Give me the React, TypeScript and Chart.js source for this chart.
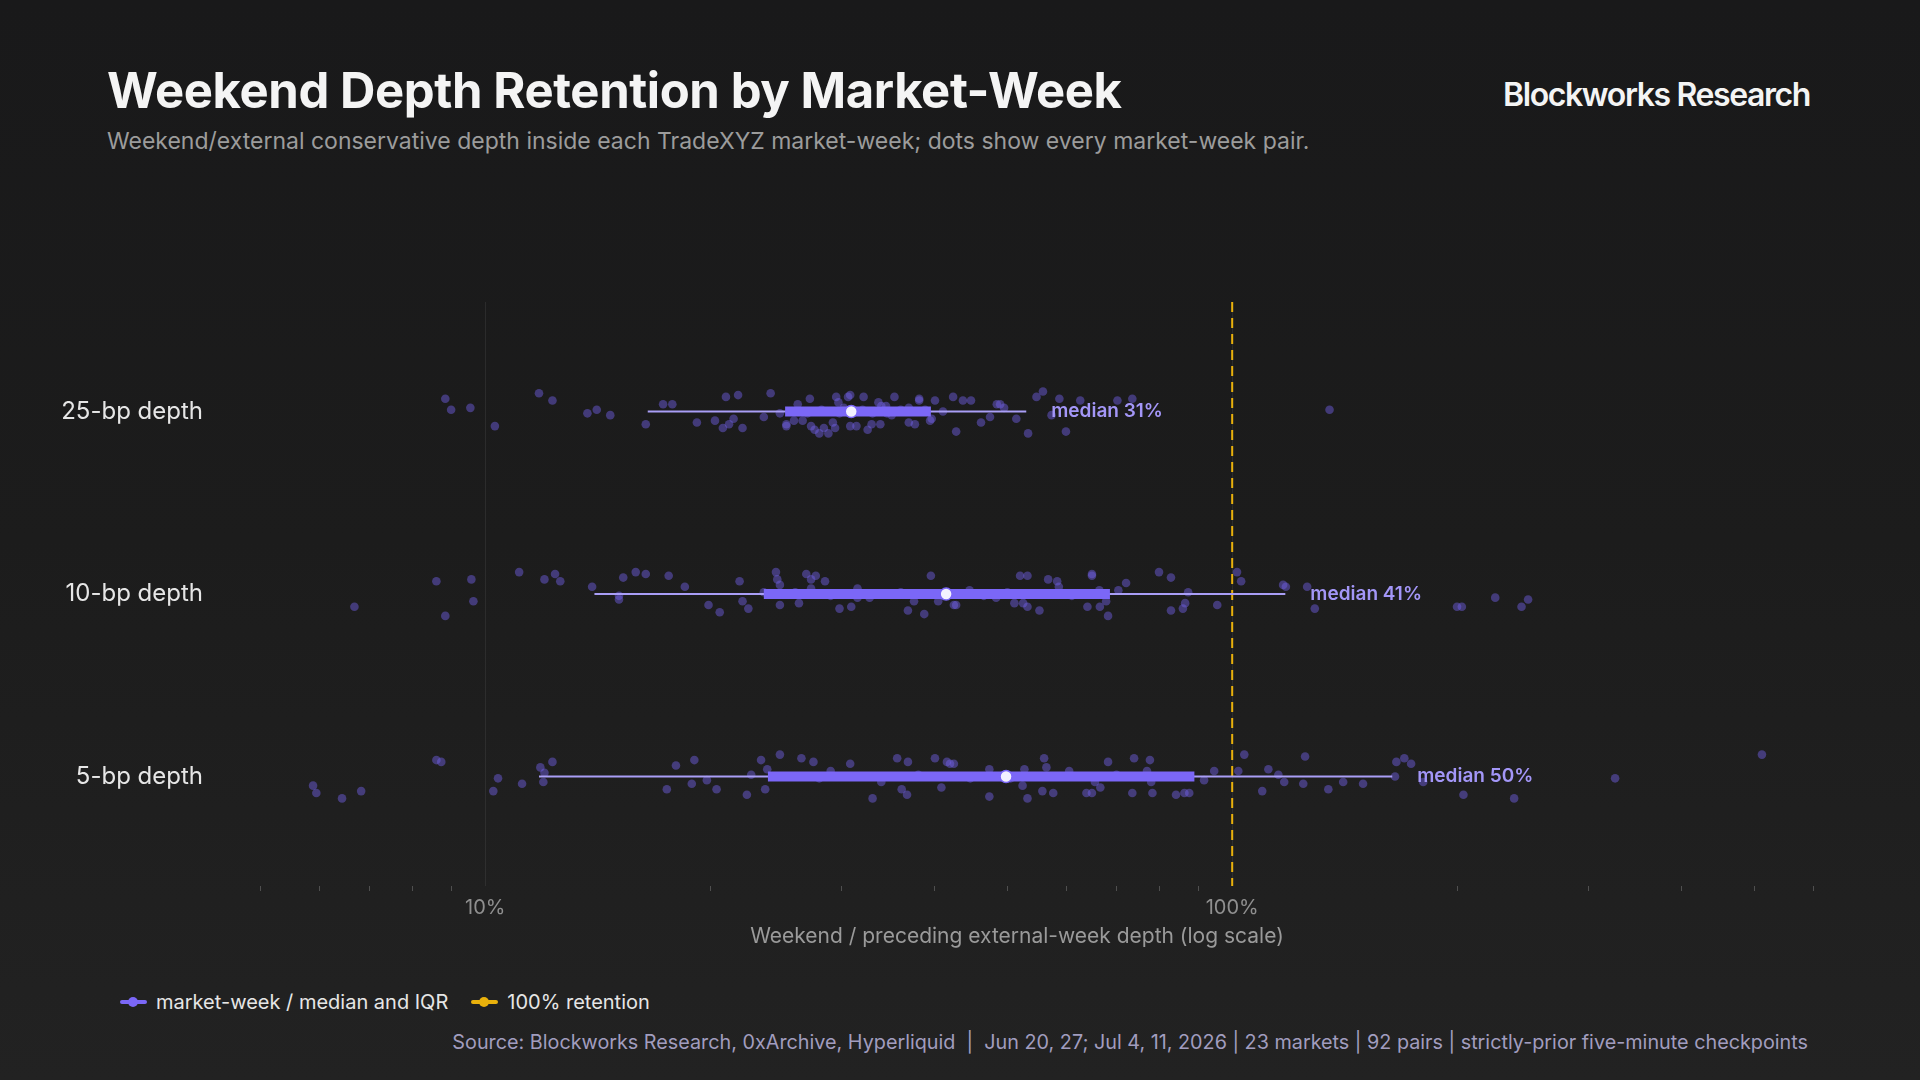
import { useEffect, useRef } from "react";
import Chart from "chart.js/auto";

const ROWS = ["25-bp depth", "10-bp depth", "5-bp depth"];

// box summary per row, weekend / preceding external-week depth in %
const WHISKER_LOW = [16.5, 14.0, 11.8];
const Q1 = [25.2, 23.6, 23.9];
const MEDIAN = [30.9, 41.4, 49.8];
const Q3 = [39.5, 68.6, 89.0];
const WHISKER_HIGH = [53.0, 117.8, 163.8];

const MAJOR_TICKS = [10, 100];
const MINOR_TICKS = [5, 6, 7, 8, 9, 20, 30, 40, 50, 60, 70, 80, 90, 200, 300, 400, 500, 600];
const X_MIN = 4.4;
const X_MAX = 603;
const Y_MIN = -0.6;
const Y_MAX = 2.6;
const RETENTION = 100;

// one dot per market-week: [ratio %, vertical jitter in row units]
const DOTS_25BP: [number, number][] = [
  [8.84, -0.07], [9.0, -0.01], [9.55, -0.02], [10.3, 0.08], [11.8, -0.1], [12.3, -0.06],
  [13.7, 0.01], [14.1, -0.01], [14.7, 0.02], [16.4, 0.07], [17.3, -0.04], [17.8, -0.04],
  [19.2, 0.06], [20.3, 0.05], [20.8, 0.09], [21.0, -0.08], [21.2, 0.07], [21.5, 0.04],
  [21.8, -0.09], [22.1, 0.09], [23.6, 0.03], [24.1, -0.1], [24.8, 0.01], [25.3, 0.07],
  [25.3, 0.08], [25.9, 0.05], [26.0, 0], [26.2, -0.04], [26.6, 0.05], [27.0, 0.01],
  [27.2, -0.07], [27.3, 0.08], [27.6, 0.1], [28.0, 0.12], [28.2, -0.01], [28.4, 0.09],
  [28.8, 0.12], [29.2, 0.06], [29.4, 0.09], [29.5, -0.08], [29.7, -0.05], [29.8, 0.01],
  [30.2, -0.02], [30.6, -0.08], [30.8, -0.09], [30.8, 0.08], [31.0, 0], [31.4, 0.08],
  [32.0, -0.01], [32.1, -0.08], [32.5, 0.1], [32.9, 0.07], [33.0, 0.01], [33.6, -0.05],
  [33.8, 0.07], [33.9, -0.03], [34.4, -0.03], [34.5, 0.01], [35.0, 0.02], [35.3, -0.08],
  [36.0, -0.01], [36.9, -0.02], [36.9, 0.06], [37.0, 0], [37.6, 0.07], [38.1, -0.06],
  [38.1, -0.07], [38.8, -0.01], [39.4, 0.05], [39.6, 0.04], [40.0, -0.06], [41.0, 0],
  [42.3, -0.08], [42.7, 0.11], [43.6, -0.06], [44.7, -0.06], [46.1, 0.06], [47.4, 0.03],
  [48.4, -0.04], [48.9, -0.04], [49.5, -0.02], [51.4, 0.04], [53.3, 0.12], [54.7, -0.08],
  [55.8, -0.11], [57.3, 0.02], [58.7, -0.07], [59.9, 0.11], [62.6, -0.06], [70.2, -0.06],
  [73.5, -0.07], [135, -0.01],
];

const DOTS_10BP: [number, number][] = [
  [6.68, 0.07], [8.6, -0.07], [8.84, 0.12], [9.58, -0.08], [9.64, 0.04], [11.1, -0.12],
  [12.0, -0.08], [12.4, -0.11], [12.6, -0.07], [13.9, -0.04], [15.1, 0.01], [15.1, 0.03],
  [15.3, -0.09], [15.9, -0.12], [16.4, -0.11], [17.6, -0.1], [18.5, -0.04], [19.9, 0.06],
  [20.6, 0.1], [21.9, -0.07], [22.1, 0.04], [22.5, 0.08], [23.6, -0.01], [24.5, -0.12],
  [24.6, -0.08], [24.8, -0.05], [24.8, 0.06], [26.0, -0.01], [26.3, 0.05], [26.9, -0.11],
  [27.3, -0.08], [27.3, -0.03], [27.7, -0.1], [28.5, -0.07], [29.0, 0.01], [29.8, 0.08],
  [30.9, 0.07], [31.5, -0.03], [31.5, 0.02], [32.7, 0.02], [34.0, 0], [36.0, -0.01],
  [36.8, 0.09], [37.5, 0.04], [38.7, 0.11], [39.5, -0.1], [40.4, 0.04], [41.0, 0.01],
  [42.4, 0.06], [42.7, 0.06], [44.5, -0.02], [46.5, 0.01], [48.3, 0.02], [50.0, -0.01],
  [51.1, 0.05], [52.0, -0.1], [52.5, 0.05], [53.2, 0.07], [53.2, -0.1], [55.2, 0.09],
  [56.7, -0.08], [57.0, 0], [58.3, -0.07], [58.6, -0.04], [61.0, 0.01], [64.0, 0.07],
  [64.9, -0.1], [64.9, -0.11], [66.4, -0.02], [66.5, 0.07], [67.8, 0.04], [68.2, 0.12],
  [70.4, -0.02], [72.1, -0.06], [79.8, -0.12], [82.8, -0.09], [82.8, 0.09], [85.9, 0.08],
  [86.5, 0.05], [87.3, -0.01], [95.5, 0.06], [101.5, -0.12], [102.8, -0.07], [117, -0.05],
  [118, -0.04], [126, -0.04], [129, 0.08], [200, 0.07], [203, 0.07], [225, 0.02],
  [244, 0.07], [249, 0.03],
];

const DOTS_5BP: [number, number][] = [
  [5.88, 0.05], [5.94, 0.09], [6.43, 0.12], [6.82, 0.08], [8.6, -0.09], [8.73, -0.08],
  [10.25, 0.08], [10.4, 0.01], [11.2, 0.04], [11.85, -0.05], [11.96, 0.03], [12.0, -0.02],
  [12.3, -0.08], [17.5, 0.07], [18.0, -0.06], [18.9, 0.04], [19.05, -0.09], [19.8, 0.02],
  [20.4, 0.07], [22.4, 0.1], [22.7, -0.01], [23.4, -0.09], [23.7, 0.07], [23.85, -0.04],
  [24.8, -0.12], [26.5, -0.1], [27.5, -0.08], [28.0, 0.01], [29.0, -0.03], [30.8, -0.07],
  [33.0, 0.12], [33.9, 0.03], [35.6, -0.1], [36.1, 0.07], [36.7, 0.1], [36.8, -0.08],
  [38.0, -0.01], [40.0, -0.1], [40.8, 0.06], [41.5, -0.08], [41.9, -0.07], [42.4, -0.07],
  [44.6, 0.01], [45.0, 0], [47.3, -0.04], [47.3, 0.11], [50.5, 0.01], [52.4, 0.05],
  [52.7, -0.04], [53.2, 0.12], [55.7, 0.08], [56.0, -0.1], [56.4, -0.05], [57.6, 0.09],
  [60.5, -0.03], [63.8, 0.09], [64.9, 0.09], [65.5, 0.03], [66.6, 0.06], [68.2, -0.08],
  [70.0, -0.01], [73.5, 0.09], [73.9, -0.1], [76.9, -0.03], [77.6, -0.09], [77.9, 0.03],
  [78.2, 0.09], [84.1, 0.1], [86.3, 0.09], [87.6, 0.09], [91.7, 0.02], [94.6, -0.03],
  [101.9, -0.03], [103.8, -0.12], [109.7, 0.08], [111.8, -0.04], [115.3, -0.01], [117.4, 0.03],
  [124.5, 0.04], [125.2, -0.11], [134.5, 0.07], [140.8, 0.03], [149.7, 0.04], [165.2, 0],
  [165.9, -0.08], [170, -0.1], [173.6, -0.07], [180.2, 0.03], [204, 0.1], [238.5, 0.12],
  [325.6, 0.01], [512, -0.12],
];

const DOTS = [DOTS_25BP, DOTS_10BP, DOTS_5BP];

const PURPLE = "#7b67f7";
const WHISKER = "#a99ef6";
const YELLOW = "#e9b10c";
const FONT = "Inter, 'Noto Sans', sans-serif";

// "median NN%" next to each upper whisker
const medianLabels = {
  id: "medianLabels",
  afterDatasetsDraw(chart: any) {
    const { ctx, scales } = chart;
    ctx.save();
    ctx.font = `600 19px ${FONT}`;
    ctx.fillStyle = "#a396f7";
    ctx.textBaseline = "middle";
    ROWS.forEach((_, i) => {
      ctx.fillText(
        `median ${Math.round(MEDIAN[i])}%`,
        scales.x.getPixelForValue(WHISKER_HIGH[i]) + 25,
        scales.y.getPixelForValue(i)
      );
    });
    ctx.restore();
  },
};

function DepthChart() {
  const canvasRef = useRef<HTMLCanvasElement>(null);

  useEffect(() => {
    if (!canvasRef.current) return;

    const chart = new Chart(canvasRef.current, {
      type: "scatter",
      data: {
        datasets: [
          {
            label: "median",
            data: MEDIAN.map((m, i) => ({ x: m, y: i })),
            pointRadius: 6,
            pointBackgroundColor: "#f3f1ff",
            pointBorderColor: PURPLE,
            pointBorderWidth: 1.5,
            order: 0,
          },
          ...ROWS.map((_, i) => ({
            label: "iqr",
            data: [
              { x: Q1[i], y: i },
              { x: Q3[i], y: i },
            ],
            showLine: true,
            borderColor: PURPLE,
            borderWidth: 10,
            borderCapStyle: "butt" as const,
            pointRadius: 0,
            order: 1,
          })),
          ...ROWS.map((_, i) => ({
            label: "whisker",
            data: [
              { x: WHISKER_LOW[i], y: i },
              { x: WHISKER_HIGH[i], y: i },
            ],
            showLine: true,
            borderColor: WHISKER,
            borderWidth: 2,
            pointRadius: 0,
            order: 2,
          })),
          {
            label: "100% retention",
            data: [
              { x: RETENTION, y: Y_MIN },
              { x: RETENTION, y: Y_MAX },
            ],
            showLine: true,
            borderColor: YELLOW,
            borderWidth: 2,
            borderDash: [10, 6],
            pointRadius: 0,
            order: 3,
          },
          {
            label: "market-week",
            data: DOTS.flatMap((row, i) => row.map(([v, j]) => ({ x: v, y: i + j }))),
            pointRadius: 4.3,
            pointBackgroundColor: "rgba(116,98,236,0.45)",
            pointBorderWidth: 0,
            order: 4,
          },
        ],
      },
      options: {
        animation: false,
        responsive: true,
        maintainAspectRatio: false,
        events: [],
        layout: { padding: { top: 52, right: 105, left: 0, bottom: 0 } },
        plugins: {
          legend: { display: false },
          tooltip: { enabled: false },
        },
        scales: {
          x: {
            type: "logarithmic",
            min: X_MIN,
            max: X_MAX,
            afterBuildTicks: (scale: any) => {
              scale.ticks = [...MINOR_TICKS, ...MAJOR_TICKS]
                .sort((a, b) => a - b)
                .map((v) => ({ value: v }));
            },
            afterFit: (scale: any) => {
              scale.height = 84;
            },
            border: { display: false },
            grid: {
              color: (c: any) => (MAJOR_TICKS.includes(c.tick?.value) ? "rgba(255,255,255,0.07)" : "transparent"),
              tickColor: (c: any) => (MAJOR_TICKS.includes(c.tick?.value) ? "transparent" : "#4f4f4f"),
              tickLength: 5,
            },
            ticks: {
              autoSkip: false,
              maxRotation: 0,
              padding: 5,
              color: "#8f8f8f",
              font: { size: 20, family: FONT },
              callback: (v: any) => (MAJOR_TICKS.includes(Number(v)) ? `${v}%` : ""),
            },
            title: {
              display: true,
              text: "Weekend / preceding external-week depth (log scale)",
              color: "#9a9a9a",
              font: { size: 21, family: FONT },
              padding: { top: 0, bottom: 21 },
            },
          },
          y: {
            type: "linear",
            reverse: true,
            min: Y_MIN,
            max: Y_MAX,
            afterBuildTicks: (scale: any) => {
              scale.ticks = ROWS.map((_, i) => ({ value: i }));
            },
            afterFit: (scale: any) => {
              scale.width = 219;
            },
            border: { display: false },
            grid: { display: false, drawTicks: false },
            ticks: {
              padding: 16,
              color: "#e6e6e6",
              font: { size: 24, family: FONT },
              callback: (v: any) => ROWS[Number(v)] ?? "",
            },
          },
        },
      },
      plugins: [medianLabels],
    });

    return () => {
      chart.destroy();
    };
  }, []);

  return <canvas ref={canvasRef} />;
}

export default function App() {
  useEffect(() => {
    document.body.style.margin = "0";
    document.body.style.background = "#1b1b1b";
  }, []);

  return (
    <div
      style={{
        position: "relative",
        width: 1920,
        height: 1080,
        overflow: "hidden",
        background: "linear-gradient(180deg, #19191a 0%, #1c1c1c 50%, #222222 100%)",
        fontFamily: FONT,
      }}
    >
      <div
        style={{
          position: "absolute",
          left: 107,
          top: 66,
          fontSize: 49,
          lineHeight: 1,
          fontWeight: 700,
          color: "#f4f4f4",
          letterSpacing: -0.4,
        }}
      >
        Weekend Depth Retention by Market-Week
      </div>
      <div style={{ position: "absolute", left: 107, top: 130, fontSize: 23, lineHeight: 1, color: "#9c9c9c" }}>
        Weekend/external conservative depth inside each TradeXYZ market-week; dots show every market-week pair.
      </div>
      <div
        style={{
          position: "absolute",
          right: 110,
          top: 79,
          fontSize: 32,
          lineHeight: 1,
          fontWeight: 600,
          color: "#f4f4f4",
          letterSpacing: -1.4,
        }}
      >
        Blockworks Research
      </div>

      <div style={{ position: "absolute", left: 0, top: 250, width: 1920, height: 720 }}>
        <DepthChart />
      </div>

      {/* legend */}
      <div
        style={{
          position: "absolute",
          left: 120,
          top: 992,
          display: "flex",
          alignItems: "center",
          fontSize: 20,
          lineHeight: 1,
          color: "#e6e6e6",
        }}
      >
        {[
          { label: "market-week / median and IQR", color: PURPLE },
          { label: "100% retention", color: YELLOW },
        ].map((item) => (
          <div key={item.label} style={{ display: "flex", alignItems: "center", marginRight: 23 }}>
            <span style={{ position: "relative", width: 27, height: 12, marginRight: 9 }}>
              <span
                style={{
                  position: "absolute",
                  left: 0,
                  top: 4,
                  width: 27,
                  height: 4,
                  borderRadius: 2,
                  background: item.color,
                }}
              />
              <span
                style={{
                  position: "absolute",
                  left: 8,
                  top: 1,
                  width: 10,
                  height: 10,
                  borderRadius: 5,
                  background: item.color,
                }}
              />
            </span>
            <span>{item.label}</span>
          </div>
        ))}
      </div>

      <div
        style={{
          position: "absolute",
          right: 112,
          top: 1033,
          fontSize: 19.8,
          lineHeight: 1,
          color: "#a19dbf",
          whiteSpace: "pre",
        }}
      >
        {"Source: Blockworks Research, 0xArchive, Hyperliquid  |  Jun 20, 27; Jul 4, 11, 2026 | 23 markets | 92 pairs | strictly-prior five-minute checkpoints"}
      </div>
    </div>
  );
}
